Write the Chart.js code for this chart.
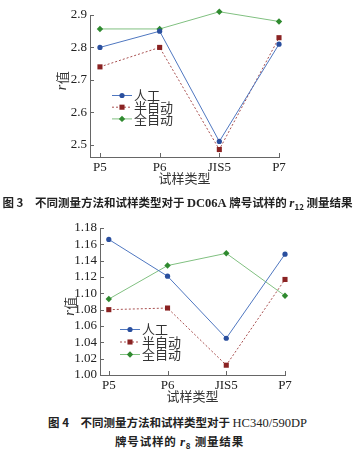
<!DOCTYPE html>
<html>
<head>
<meta charset="utf-8">
<script src="https://cdn.jsdelivr.net/npm/chart.js@4/dist/chart.umd.min.js"></script>
<style>
body { margin: 0; background: #fff; width: 353px; height: 453px; position: relative; overflow: hidden; }
canvas { position: absolute; left: 0; }
#chart1 { top: 0; }
#chart2 { top: 212px; }
.cap { position: absolute; left: 0; width: 353px; text-align: center; white-space: nowrap;
  font-family: "Noto Sans CJK SC"; font-weight: bold; font-size: 11.5px; color: #222; }
.cap .en { font-family: "Liberation Serif"; font-size: 12.5px; }
.cap i { font-family: "Liberation Serif"; font-size: 13px; }
.cap sub { font-size: 8px; font-style: normal; }
</style>
</head>
<body>
<canvas id="chart1" width="353" height="186"></canvas>
<canvas id="chart2" width="353" height="192"></canvas>
<div class="cap" style="top:194px;letter-spacing:0;left:1px">图 3&emsp;不同测量方法和试样类型对于 <span class="en">DC06A</span> 牌号试样的 <i>r</i><sub>12</sub> 测量结果</div>
<div class="cap" style="top:414px;letter-spacing:0;left:1px">图 4&emsp;不同测量方法和试样类型对于 <span class="en" style="font-weight:normal">HC340/590DP</span></div>
<div class="cap" style="top:433px;letter-spacing:0.8px;left:3px">牌号试样的 <i>r</i><sub>8</sub> 测量结果</div>
<script>
// Shared categories and series
const categories = ["P5", "P6", "JIS5", "P7"];
const seriesNames = ["人工", "半自动", "全自动"];

// Figure 3: r12 values
const r12Manual = [2.80, 2.85, 2.51, 2.81];
const r12Semi = [2.74, 2.80, 2.485, 2.83];
const r12Auto = [2.857, 2.857, 2.91, 2.88];
const r12Ticks = [2.5, 2.6, 2.7, 2.8, 2.9];

// Figure 4: r8 values
const r8Manual = [1.166, 1.121, 1.045, 1.148];
const r8Semi = [1.080, 1.082, 1.012, 1.117];
const r8Auto = [1.093, 1.134, 1.149, 1.097];
const r8Ticks = [1.00, 1.02, 1.04, 1.06, 1.08, 1.10, 1.12, 1.14, 1.16, 1.18];

// Series styles
const lineColors = ["#4f77c0", "#a85050", "#80c080"];
const markColors = ["#2a4f9e", "#8a2222", "#2f8a2f"];
const markStyles = ["circle", "rect", "rectRot"];
const markSizes = [2.6, 3.6, 3.2];
const dashes = [[], [2, 2], []];

const toPoints = function(values) {
	return values.map(function(v, i) { return { x: i, y: v }; });
};

const makeDatasets = function(seriesList) {
	return seriesList.map(function(values, i) {
		return {
			label: seriesNames[i],
			data: toPoints(values),
			borderColor: lineColors[i],
			borderWidth: 1,
			borderDash: dashes[i],
			pointStyle: markStyles[i],
			pointRadius: markSizes[i],
			pointBackgroundColor: markColors[i],
			pointBorderColor: markColors[i],
			pointBorderWidth: 0,
			clip: false,
			tension: 0
		};
	});
};

// draw a single marker (legend use)
const drawMark = function(ctx, style, r, x, y, color) {
	ctx.fillStyle = color;
	ctx.beginPath();
	if (style === "circle") {
		ctx.arc(x, y, r, 0, Math.PI * 2);
	} else if (style === "rect") {
		const s = r * Math.SQRT1_2;
		ctx.rect(x - s, y - s, 2 * s, 2 * s);
	} else {
		ctx.moveTo(x, y - r); ctx.lineTo(x + r, y); ctx.lineTo(x, y + r); ctx.lineTo(x - r, y);
		ctx.closePath();
	}
	ctx.fill();
};

// inward ticks, y title, legend inside the plot
const decorPlugin = {
	id: "decor",
	afterDraw: function(chart, args, opts) {
		const ctx = chart.ctx;
		const xs = chart.scales.x, ys = chart.scales.y;
		ctx.save();
		ctx.strokeStyle = "#666";
		ctx.lineWidth = 1;
		ctx.beginPath();
		ys.ticks.forEach(function(t) {
			const py = Math.round(ys.getPixelForValue(t.value)) + 0.5;
			ctx.moveTo(ys.right, py); ctx.lineTo(ys.right + 4, py);
		});
		xs.ticks.forEach(function(t) {
			const px = Math.round(xs.getPixelForValue(t.value)) + 0.5;
			ctx.moveTo(px, xs.top); ctx.lineTo(px, xs.top - 4);
		});
		ctx.stroke();

		// y axis title: italic r + 值
		const cy = (chart.chartArea.top + chart.chartArea.bottom) / 2 + opts.titleShift;
		ctx.translate(opts.titleX, cy);
		ctx.rotate(-Math.PI / 2);
		ctx.fillStyle = "#333";
		ctx.textBaseline = "middle";
		const f1 = "italic 14px 'Liberation Serif'";
		const f2 = "13px 'Noto Sans CJK SC'";
		ctx.font = f1; const w1 = ctx.measureText("r").width;
		ctx.font = f2; const w2 = ctx.measureText("值").width;
		let x0 = -(w1 + w2) / 2;
		ctx.font = f1; ctx.fillText("r", x0, 0);
		ctx.font = f2; ctx.fillText("值", x0 + w1 + 0.5, 0);
		ctx.setTransform(1, 0, 0, 1, 0, 0);

		// legend
		chart.data.datasets.forEach(function(ds, i) {
			const ly = opts.legendY + i * opts.legendRow;
			ctx.strokeStyle = lineColors[i];
			ctx.setLineDash(dashes[i]);
			ctx.beginPath();
			ctx.moveTo(opts.legendX, ly + 0.5); ctx.lineTo(opts.legendX + 20, ly + 0.5);
			ctx.stroke();
			ctx.setLineDash([]);
			drawMark(ctx, markStyles[i], markSizes[i], opts.legendX + 10, ly + 0.5, markColors[i]);
			ctx.fillStyle = "#333";
			ctx.font = "13px 'Noto Sans CJK SC'";
			ctx.textBaseline = "middle";
			ctx.fillText(ds.label, opts.legendX + 22, ly + 0.5);
		});
		ctx.restore();
	}
};

const buildConfig = function(seriesList, yMin, yMax, yTicks, decimals, layout, decor) {
	return {
		type: "line",
		data: { datasets: makeDatasets(seriesList) },
		plugins: [decorPlugin],
		options: {
			responsive: false,
			animation: false,
			events: [],
			layout: { padding: layout.padding },
			plugins: { legend: { display: false }, tooltip: { enabled: false }, decor: decor },
			scales: {
				x: {
					type: "linear",
					min: layout.xMin,
					max: 3,
					afterBuildTicks: function(scale) {
						scale.ticks = categories.map(function(c, i) { return { value: i }; });
					},
					afterFit: function(scale) { scale.height = layout.xHeight; },
					grid: { display: false, drawTicks: false },
					border: { display: true, color: "#666", width: 1 },
					ticks: {
						padding: 3,
						autoSkip: false,
						color: "#222",
						font: { family: "Liberation Serif", size: 13 },
						maxRotation: 0,
						callback: function(v) { return categories[v]; }
					},
					title: {
						display: true,
						text: "试样类型",
						color: "#333",
						padding: 0,
						font: { family: "Noto Sans CJK SC", size: 13 }
					}
				},
				y: {
					min: yMin,
					max: yMax,
					afterBuildTicks: function(scale) {
						scale.ticks = yTicks.map(function(v) { return { value: v }; });
					},
					afterFit: function(scale) { scale.width = layout.yWidth; },
					grid: { display: false, drawTicks: false },
					border: { display: true, color: "#666", width: 1 },
					ticks: {
						padding: 3,
						autoSkip: false,
						color: "#222",
						font: { family: "Liberation Serif", size: 13 },
						callback: function(v) { return v.toFixed(decimals); }
					}
				}
			}
		}
	};
};

new Chart(document.getElementById("chart1"),
	buildConfig([r12Manual, r12Semi, r12Auto], 2.462, 2.9, r12Ticks, 1,
		{ padding: { top: 15, right: 74, left: 0, bottom: 0 }, xMin: -0.167, xHeight: 29, yWidth: 90 },
		{ titleX: 62, titleShift: -5, legendX: 112, legendY: 95, legendRow: 11.7 }));

new Chart(document.getElementById("chart2"),
	buildConfig([r8Manual, r8Semi, r8Auto], 1.0, 1.18, r8Ticks, 2,
		{ padding: { top: 16, right: 68, left: 0, bottom: 0 }, xMin: -0.15, xHeight: 29, yWidth: 100 },
		{ titleX: 70, titleShift: 5, legendX: 120, legendY: 117, legendRow: 12.5 }));
</script>
</body>
</html>
